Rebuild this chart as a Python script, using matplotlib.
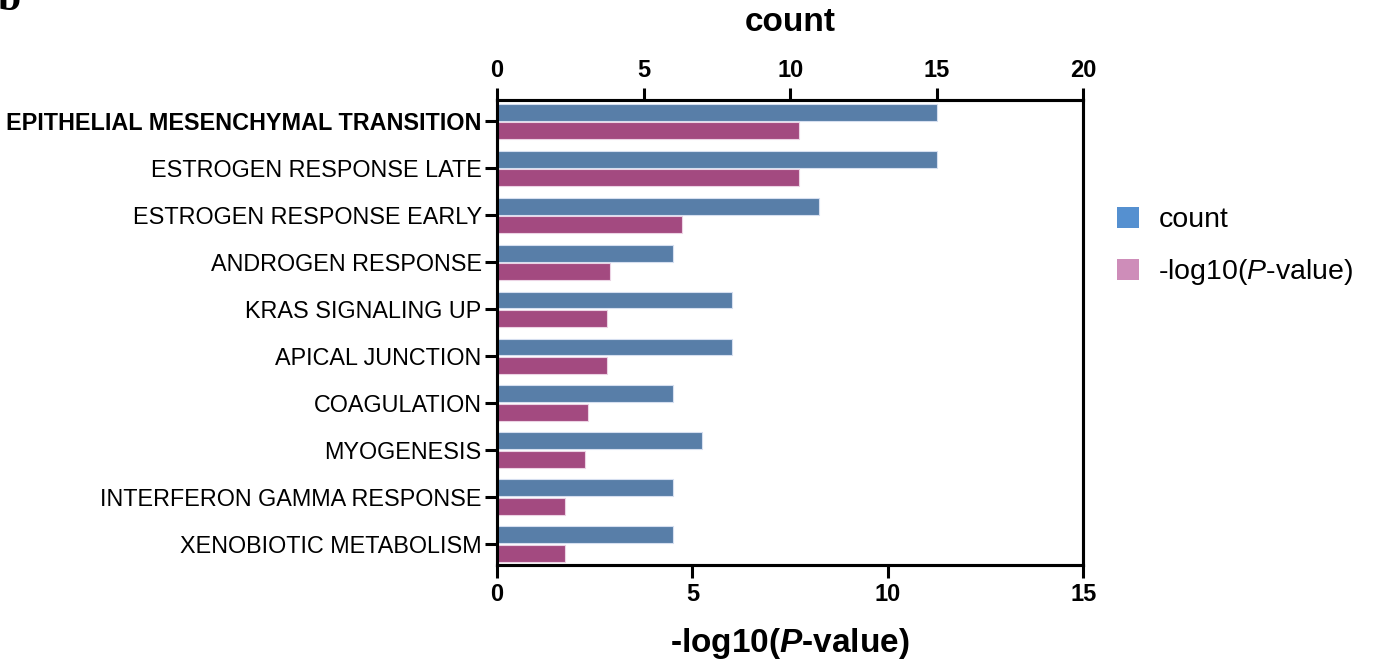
import matplotlib
matplotlib.use("Agg")
import matplotlib.pyplot as plt
from matplotlib.patches import Patch
import numpy as np

plt.rcParams['font.family'] = ['Liberation Sans', 'DejaVu Sans']
plt.rcParams['mathtext.fontset'] = 'custom'
plt.rcParams['mathtext.rm'] = 'Liberation Sans'
plt.rcParams['mathtext.it'] = 'Liberation Sans:italic'
plt.rcParams['mathtext.bf'] = 'Liberation Sans:bold'
plt.rcParams['mathtext.bfit'] = 'Liberation Sans:italic:bold'

# hallmark gene sets, top to bottom
terms = [
    "EPITHELIAL MESENCHYMAL TRANSITION",
    "ESTROGEN RESPONSE LATE",
    "ESTROGEN RESPONSE EARLY",
    "ANDROGEN RESPONSE",
    "KRAS SIGNALING UP",
    "APICAL JUNCTION",
    "COAGULATION",
    "MYOGENESIS",
    "INTERFERON GAMMA RESPONSE",
    "XENOBIOTIC METABOLISM",
]
count = [15, 15, 11, 6, 8, 8, 6, 7, 6, 6]
neglogp = [7.73, 7.73, 4.74, 2.90, 2.82, 2.82, 2.34, 2.25, 1.73, 1.73]

count_ticks = [0, 5, 10, 15, 20]
p_ticks = [0, 5, 10, 15]

bar_blue = '#587ea8'
bar_pink = '#a34a80'
leg_blue = '#5590d0'
leg_pink = '#ce8db9'

fig = plt.figure(figsize=(13.73, 6.64), dpi=100)
ax = fig.add_axes([0.362, 0.149, 0.427, 0.700])
ax2 = ax.twiny()

y = np.arange(len(terms))
h = 0.36
ax2.barh(y - 0.195, count, height=h, color=bar_blue, edgecolor='#d6dff0', linewidth=0.8)
ax.barh(y + 0.195, neglogp, height=h, color=bar_pink, edgecolor='#ecd3e4', linewidth=0.8)

ax.set_xlim(0, 15)
ax2.set_xlim(0, 20)
ax.set_ylim(len(terms) - 0.55, -0.45)

ax.set_xticks(p_ticks)
ax2.set_xticks(count_ticks)
ax.set_yticks(y)
ax.set_yticklabels(terms, fontsize=16.8)
ax.get_yticklabels()[0].set_fontweight('bold')

for a in (ax, ax2):
    for s in a.spines.values():
        s.set_linewidth(2.2)
    a.tick_params(axis='x', length=9, width=2.2, labelsize=17, pad=4)
    for lbl in a.get_xticklabels():
        lbl.set_fontweight('bold')
ax.tick_params(axis='y', length=9, width=2.2, pad=2)

ax.set_xlabel(r'-log10($\mathbfit{P}$-value)', fontsize=24, fontweight='bold', labelpad=14)
ax2.set_xlabel('count', fontsize=24, fontweight='bold', labelpad=20)

handles = [Patch(facecolor=leg_blue, edgecolor='none'),
           Patch(facecolor=leg_pink, edgecolor='none')]
fig.legend(handles, ['count', r'-log10($\mathit{P}$-value)'],
           loc='upper left', bbox_to_anchor=(0.795, 0.727), frameon=False,
           fontsize=20.5, handlelength=0.75, handleheight=0.75,
           handletextpad=0.7, labelspacing=0.85)

# panel letter, cut off at the top edge
fig.text(-0.002, 0.985, 'b', fontsize=30, fontweight='bold',
         family='Liberation Serif', va='baseline', ha='left')

fig.savefig('out.png', dpi=100)
